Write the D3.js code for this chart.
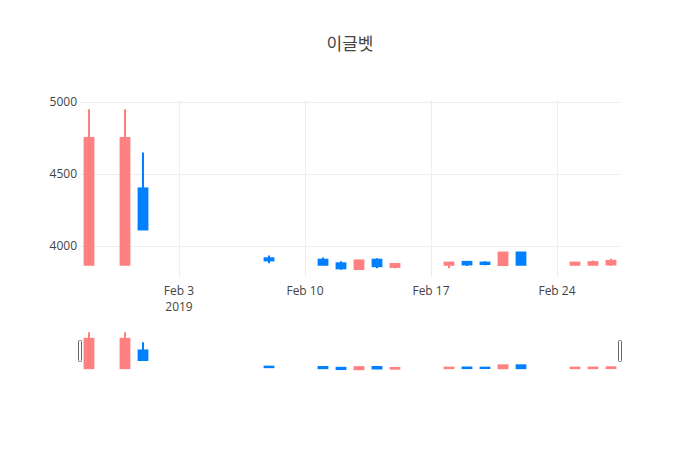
<!DOCTYPE html>
<html>
<head>
<meta charset="utf-8">
<script src="https://cdn.jsdelivr.net/npm/d3@7"></script>
<style>
  html, body { margin: 0; padding: 0; background: #fff; }
  svg { display: block; }
  text { font-family: "Open Sans", "Noto Sans", sans-serif; }
</style>
</head>
<body>
<svg id="chart" width="700" height="450"></svg>
<script>
const title = "이글벳";
const dates = ["2019-01-29","2019-01-31","2019-02-01","2019-02-08","2019-02-11","2019-02-12","2019-02-13","2019-02-14","2019-02-15","2019-02-18","2019-02-19","2019-02-20","2019-02-21","2019-02-22","2019-02-25","2019-02-26","2019-02-27"];
const open  = [3870, 3870, 4400, 3915, 3905, 3880, 3840, 3905, 3855, 3870, 3890, 3885, 3868, 3955, 3870, 3870, 3872];
const high  = [4950, 4950, 4650, 3935, 3920, 3895, 3900, 3915, 3880, 3890, 3893, 3895, 3955, 3955, 3888, 3900, 3912];
const low   = [3870, 3870, 4115, 3880, 3865, 3835, 3840, 3845, 3845, 3845, 3862, 3866, 3868, 3870, 3866, 3866, 3862];
const close = [4750, 4750, 4115, 3900, 3870, 3845, 3900, 3860, 3875, 3885, 3872, 3875, 3955, 3870, 3885, 3888, 3897];
const yTicks = [4000, 4500, 5000];
const xTickDates = ["2019-02-03","2019-02-10","2019-02-17","2019-02-24"];
const xTickLabels = ["Feb 3", "Feb 10", "Feb 17", "Feb 24"];
const xTickSub = ["2019", "", "", ""];
const xDomainDates = ["2019-01-28T12:00:00", "2019-02-27T12:00:00"];
const yDomain = [3785, 5014];

const upColor = "#ff8080";
const downColor = "#0080ff";

const parse = s => new Date(s + (s.length === 10 ? "T00:00:00" : ""));
const data = dates.map((d, i) => ({ date: parse(d), o: open[i], h: high[i], l: low[i], c: close[i] }));

const svg = d3.select("#chart");
const L = 80, R = 620, T = 100, B = 277;
const sT = 330, sB = 371;

const x = d3.scaleTime().domain(xDomainDates.map(parse)).range([L, R]);
const y = d3.scaleLinear().domain(yDomain).range([B, T]);
const ys = d3.scaleLinear().domain(yDomain).range([sB, sT]);

const DAY = 86400000;
const halfW = d => (x(new Date(+d + 0.3 * DAY)) - x(new Date(+d - 0.3 * DAY))) / 2;

// title
svg.append("text").attr("x", 350).attr("y", 50).attr("text-anchor", "middle")
  .style("font-family", "'Noto Sans CJK KR', 'Open Sans', sans-serif")
  .style("font-size", "17px").attr("fill", "#444").text(title);

// gridlines
const grid = svg.append("g");
grid.selectAll("line.h").data(yTicks).join("line")
  .attr("x1", L).attr("x2", R)
  .attr("y1", d => Math.round(y(d)) + 0.5).attr("y2", d => Math.round(y(d)) + 0.5)
  .attr("stroke", "#eee").attr("stroke-width", 1);
grid.selectAll("line.v").data(xTickDates.map(parse)).join("line")
  .attr("y1", T).attr("y2", B)
  .attr("x1", d => Math.round(x(d)) + 0.5).attr("x2", d => Math.round(x(d)) + 0.5)
  .attr("stroke", "#eee").attr("stroke-width", 1);

// y tick labels
svg.append("g").selectAll("text").data(yTicks).join("text")
  .attr("x", 77).attr("y", d => y(d)).attr("dy", "0.35em")
  .attr("text-anchor", "end").style("font-size", "12px").attr("fill", "#444")
  .text(d => d);

// x tick labels
const xt = svg.append("g").selectAll("g").data(xTickDates.map(parse)).join("g");
xt.append("text").attr("x", d => x(d)).attr("y", 295).attr("text-anchor", "middle")
  .style("font-size", "12px").attr("fill", "#444").text((d, i) => xTickLabels[i]);
xt.append("text").attr("x", d => x(d)).attr("y", 311).attr("text-anchor", "middle")
  .style("font-size", "12px").attr("fill", "#444").text((d, i) => xTickSub[i]);

// candles
function drawCandles(g, ys_) {
  const c = g.selectAll("g").data(data).join("g");
  c.append("line")
    .attr("x1", d => x(d.date)).attr("x2", d => x(d.date))
    .attr("y1", d => ys_(d.h)).attr("y2", d => ys_(d.l))
    .attr("stroke", d => d.c >= d.o ? upColor : downColor).attr("stroke-width", 2);
  c.append("rect")
    .attr("x", d => x(d.date) - halfW(d.date) + 1)
    .attr("width", d => 2 * halfW(d.date) - 2)
    .attr("y", d => ys_(Math.max(d.o, d.c)))
    .attr("height", d => Math.max(0.01, ys_(Math.min(d.o, d.c)) - ys_(Math.max(d.o, d.c))))
    .attr("fill", d => d.c >= d.o ? upColor : downColor)
    .attr("stroke", d => d.c >= d.o ? upColor : downColor)
    .attr("stroke-width", 2);
}

svg.append("clipPath").attr("id", "clipMain").append("rect")
  .attr("x", L).attr("y", T).attr("width", R - L).attr("height", B - T);
drawCandles(svg.append("g").attr("clip-path", "url(#clipMain)"), y);

// range slider
svg.append("rect").attr("x", L).attr("y", sT).attr("width", R - L).attr("height", sB - sT).attr("fill", "#fff");
svg.append("clipPath").attr("id", "clipSlider").append("rect")
  .attr("x", L).attr("y", sT).attr("width", R - L).attr("height", sB - sT);
drawCandles(svg.append("g").attr("clip-path", "url(#clipSlider)"), ys);

const hH = Math.round((sB - sT) / 2), hY = sT + Math.round((sB - sT) / 4);
[L, R].forEach(px => {
  svg.append("rect").attr("x", px - 2 + 0.5).attr("y", hY + 0.5).attr("width", 3).attr("height", hH)
    .attr("rx", 1).attr("ry", 1).attr("fill", "#fff").attr("stroke", "#666").attr("stroke-width", 1);
});
</script>
</body>
</html>
